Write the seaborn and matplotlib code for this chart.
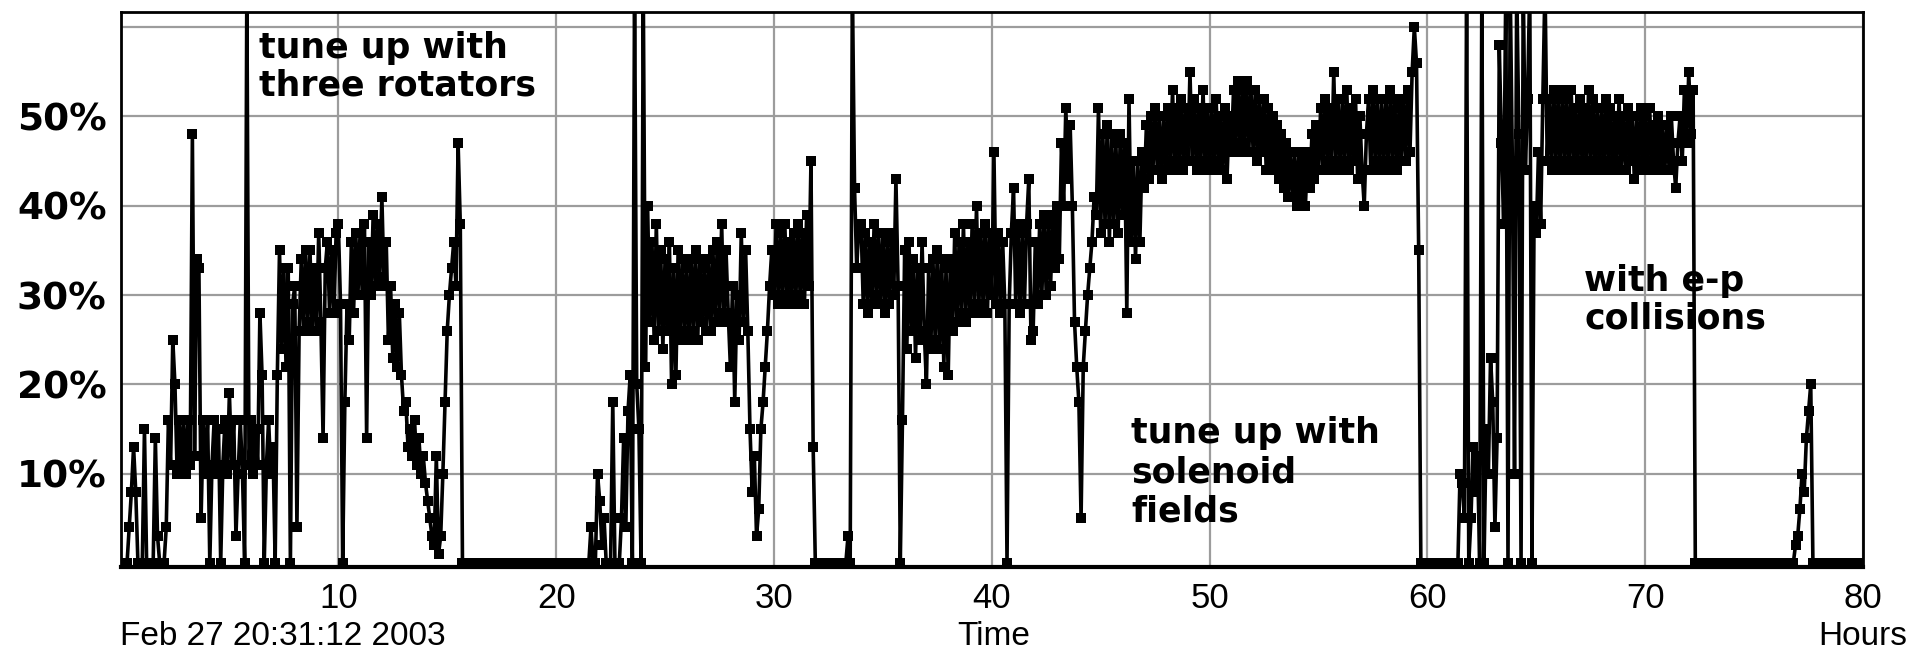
import numpy as np
import pandas as pd
import matplotlib
matplotlib.use("Agg")
import matplotlib.pyplot as plt
import matplotlib.transforms as mtransforms
import seaborn as sns

# polarization readings (%), one sample every 0.1 h -> 10 per hour
# 65 = reading off the top of the scale
pol_00_10 = [0, 0, 0, 0, 4, 8, 13, 8, 0, 0,
             0, 15, 0, 0, 0, 0, 14, 3, 0, 0,
             0, 4, 16, 11, 25, 20, 10, 16, 11, 16,
             10, 16, 11, 48, 12, 34, 33, 5, 16, 10,
             16, 0, 11, 16, 10, 15, 0, 11, 16, 10,
             19, 11, 16, 3, 10, 16, 10, 0, 65, 11,
             16, 10, 15, 11, 28, 21, 0, 11, 16, 10,
             13, 0, 21, 35, 24, 33, 22, 33, 0, 29,
             31, 4, 26, 34, 26, 35, 27, 35, 26, 33,
             26, 37, 27, 14, 33, 36, 28, 35, 28, 37]
pol_10_20 = [38, 29, 0, 18, 29, 25, 36, 28, 37, 30,
             37, 30, 38, 14, 36, 30, 39, 31, 38, 32,
             41, 31, 36, 25, 31, 23, 29, 22, 28, 21,
             17, 18, 13, 15, 12, 16, 11, 14, 10, 12,
             9, 7, 5, 3, 2, 12, 1, 3, 10, 18,
             26, 30, 33, 36, 31, 47, 38, 0, 0, 0,
             0, 0, 0, 0, 0, 0, 0, 0, 0, 0,
             0, 0, 0, 0, 0, 0, 0, 0, 0, 0,
             0, 0, 0, 0, 0, 0, 0, 0, 0, 0,
             0, 0, 0, 0, 0, 0, 0, 0, 0, 0]
pol_20_30 = [0, 0, 0, 0, 0, 0, 0, 0, 0, 0,
             0, 0, 0, 0, 0, 0, 4, 0, 0, 10,
             7, 2, 5, 0, 0, 0, 18, 0, 0, 0,
             5, 14, 4, 17, 21, 0, 65, 20, 15, 0,
             65, 22, 40, 27, 36, 25, 38, 26, 35, 24,
             34, 26, 36, 20, 33, 21, 35, 25, 34, 26,
             33, 25, 34, 26, 35, 25, 34, 27, 33, 26,
             34, 26, 35, 27, 36, 28, 38, 27, 35, 28,
             22, 31, 18, 30, 25, 37, 27, 35, 26, 15,
             8, 12, 3, 6, 15, 18, 22, 26, 31, 35]
pol_30_40 = [30, 38, 29, 37, 30, 38, 29, 36, 30, 37,
             29, 38, 30, 37, 29, 39, 31, 45, 13, 0,
             0, 0, 0, 0, 0, 0, 0, 0, 0, 0,
             0, 0, 0, 0, 3, 0, 65, 42, 33, 38,
             38, 29, 37, 28, 36, 29, 38, 30, 37, 29,
             37, 28, 36, 29, 37, 30, 43, 31, 0, 16,
             35, 24, 36, 26, 34, 23, 33, 25, 36, 26,
             20, 33, 24, 34, 25, 35, 24, 34, 22, 33,
             21, 34, 26, 37, 27, 36, 28, 38, 27, 36,
             28, 38, 29, 40, 28, 37, 29, 38, 28, 37]
pol_40_50 = [30, 46, 29, 37, 28, 36, 29, 0, 29, 37,
             42, 29, 38, 28, 37, 29, 38, 43, 25, 26,
             36, 29, 38, 30, 39, 30, 38, 31, 39, 33,
             40, 34, 47, 40, 51, 43, 49, 40, 27, 22,
             18, 5, 22, 26, 30, 33, 36, 41, 39, 51,
             37, 48, 38, 49, 36, 48, 38, 47, 37, 48,
             39, 47, 28, 52, 36, 45, 34, 45, 36, 46,
             42, 49, 43, 50, 44, 51, 44, 50, 43, 50,
             44, 51, 45, 53, 44, 51, 45, 52, 44, 51,
             45, 55, 45, 52, 44, 51, 45, 53, 44, 51]
pol_50_60 = [45, 51, 44, 52, 45, 50, 44, 51, 43, 50,
             46, 53, 47, 54, 46, 53, 47, 54, 46, 53,
             46, 53, 45, 52, 46, 52, 44, 51, 45, 50,
             44, 49, 43, 48, 42, 47, 41, 46, 41, 46,
             40, 46, 41, 45, 40, 46, 42, 48, 43, 49,
             44, 51, 44, 52, 45, 51, 44, 55, 45, 52,
             44, 52, 45, 53, 44, 51, 45, 52, 43, 50,
             44, 40, 48, 52, 44, 53, 45, 52, 44, 52,
             45, 52, 44, 53, 45, 52, 44, 51, 45, 52,
             45, 53, 46, 55, 60, 56, 35, 0, 0, 0]
pol_60_70 = [0, 0, 0, 0, 0, 0, 0, 0, 0, 0,
             0, 0, 0, 0, 0, 10, 9, 5, 65, 0,
             5, 13, 8, 12, 0, 65, 0, 15, 10, 23,
             18, 4, 14, 58, 47, 38, 65, 0, 65, 45,
             10, 65, 48, 0, 65, 44, 52, 65, 0, 40,
             37, 46, 38, 52, 65, 45, 52, 44, 53, 45,
             52, 44, 53, 45, 52, 44, 53, 45, 51, 44,
             52, 45, 51, 44, 53, 45, 52, 44, 51, 45,
             51, 44, 52, 45, 51, 44, 50, 45, 52, 44,
             50, 44, 51, 45, 50, 43, 50, 44, 51, 45]
pol_70_80 = [50, 44, 51, 45, 49, 44, 50, 45, 49, 44,
             49, 44, 50, 45, 42, 47, 50, 45, 53, 47,
             55, 48, 53, 0, 0, 0, 0, 0, 0, 0,
             0, 0, 0, 0, 0, 0, 0, 0, 0, 0,
             0, 0, 0, 0, 0, 0, 0, 0, 0, 0,
             0, 0, 0, 0, 0, 0, 0, 0, 0, 0,
             0, 0, 0, 0, 0, 0, 0, 0, 0, 2,
             3, 6, 10, 8, 14, 17, 20, 0, 0, 0,
             0, 0, 0, 0, 0, 0, 0, 0, 0, 0,
             0, 0, 0, 0, 0, 0, 0, 0, 0, 0]
step = 0.1

x_ticks = [10, 20, 30, 40, 50, 60, 70, 80]
y_ticks = [10, 20, 30, 40, 50, 60]
y_labels = ["10%", "20%", "30%", "40%", "50%", ""]

pol = pol_00_10 + pol_10_20 + pol_20_30 + pol_30_40 + pol_40_50 + pol_50_60 + pol_60_70 + pol_70_80
df = pd.DataFrame({"hours": np.arange(len(pol)) * step, "pol": pol})

sns.set_style("white")
plt.rcParams["font.family"] = ["DejaVu Sans"]
plt.rcParams["text.color"] = "black"
plt.rcParams["xtick.color"] = "black"
plt.rcParams["ytick.color"] = "black"
plain = ["Liberation Sans", "DejaVu Sans"]

fig = plt.figure(figsize=(19.28, 6.56), dpi=100)
ax = fig.add_axes([0.0625, 0.1363, 0.9038, 0.8454])

sns.lineplot(data=df, x="hours", y="pol", ax=ax, color="black", linewidth=2.6,
             marker="s", markersize=7.5, markeredgewidth=0, estimator=None, sort=False)

ax.set_xlim(0, 80)
ax.set_ylim(-0.4, 61.7)
ax.set_xticks(x_ticks)
ax.set_yticks(y_ticks)
ax.set_yticklabels(y_labels, fontsize=27, fontweight="bold", color="black")
ax.set_xticklabels([str(t) for t in x_ticks], fontsize=25, family=plain, color="black")
ax.tick_params(axis="y", length=0, pad=10)
ax.tick_params(axis="x", length=5, width=1.5, pad=6, color="black")
ax.grid(True, color="#9c9c9c", linewidth=1.6)
ax.set_axisbelow(True)
ax.set_xlabel("")
ax.set_ylabel("")
for side in ["top", "right", "left"]:
    ax.spines[side].set_color("black")
    ax.spines[side].set_linewidth(2)
ax.spines["bottom"].set_color("black")
ax.spines["bottom"].set_linewidth(3)

# labels under the axis
trans = mtransforms.blended_transform_factory(ax.transData, fig.transFigure)
ax.text(0, 0.029, "Feb 27 20:31:12 2003", transform=trans, ha="left", va="center",
        fontsize=24, family=plain, color="black")
ax.text(40.1, 0.029, "Time", transform=trans, ha="center", va="center", fontsize=24,
        family=plain, color="black")
ax.text(80, 0.029, "Hours", transform=trans, ha="center", va="center", fontsize=24,
        family=plain, color="black", clip_on=False)

# annotations
ax.text(6.36, 59.6, "tune up with\nthree rotators", ha="left", va="top", color="black",
        fontsize=25, fontweight="bold", linespacing=1.15)
ax.text(46.4, 16.5, "tune up with\nsolenoid\nfields", ha="left", va="top", color="black",
        fontsize=25, fontweight="bold", linespacing=1.2)
ax.text(67.2, 33.5, "with e-p\ncollisions", ha="left", va="top", color="black",
        fontsize=25, fontweight="bold", linespacing=1.15)

fig.savefig("out.png", dpi=100)
